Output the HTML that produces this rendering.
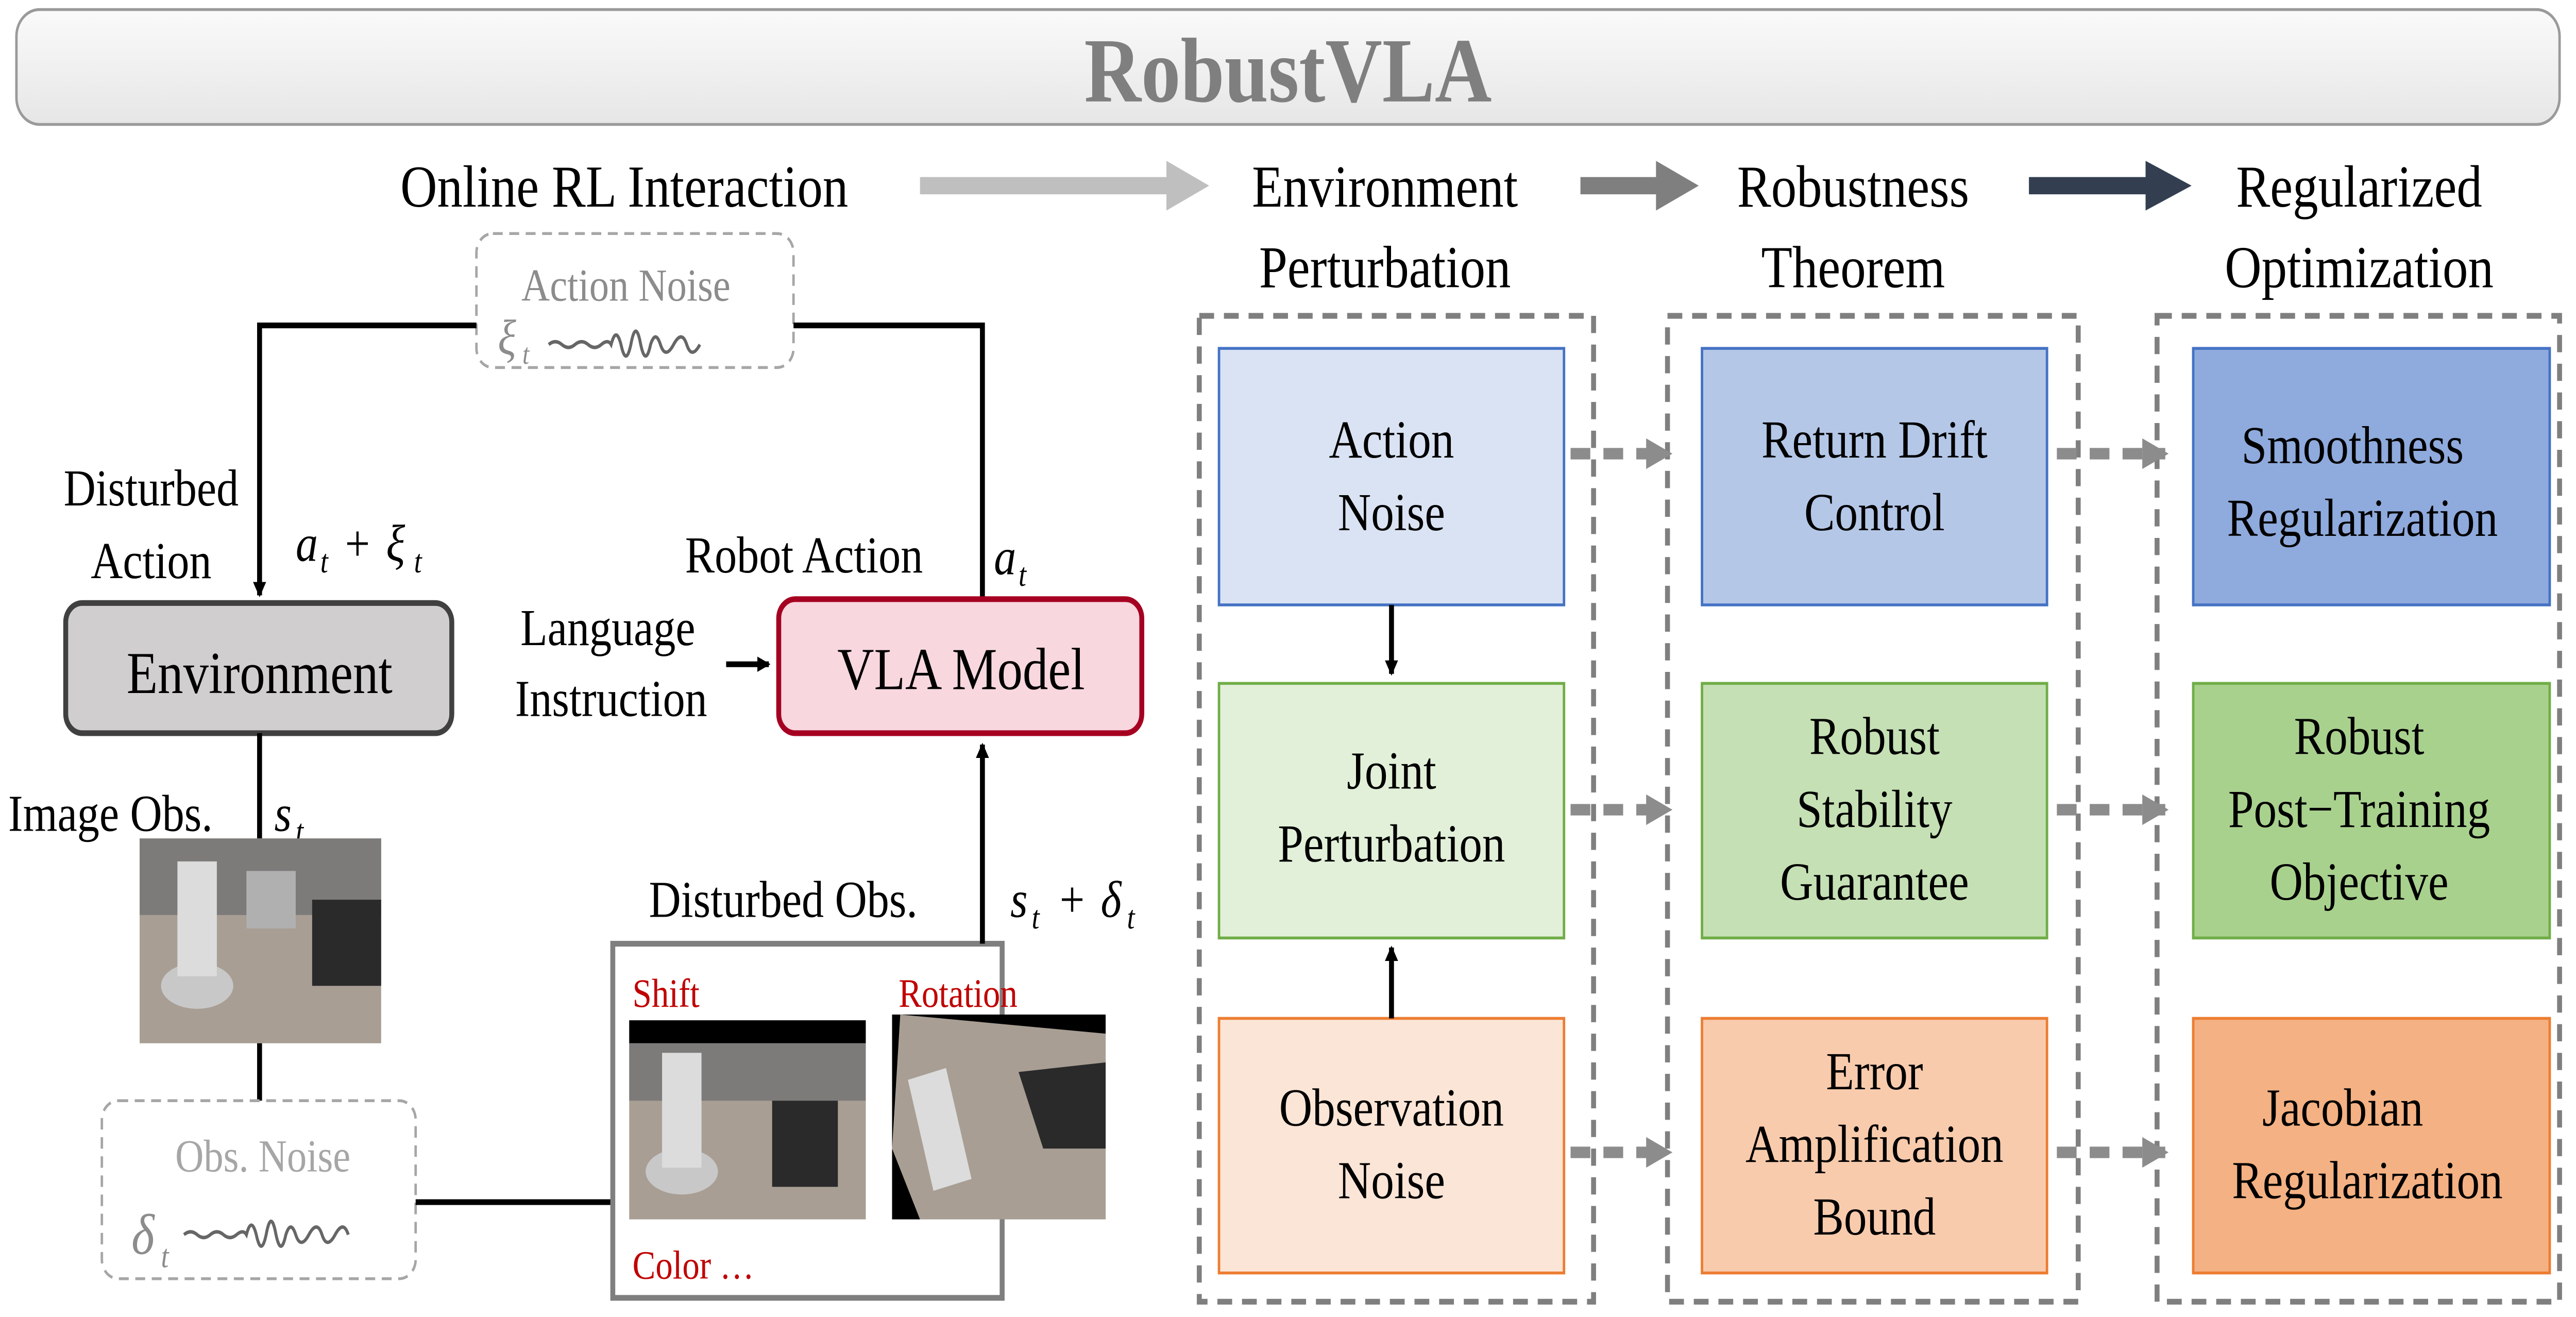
<!DOCTYPE html>
<html><head><meta charset="utf-8"><style>
html,body{margin:0;padding:0;background:#fff;width:100%;height:100%;overflow:hidden}
svg{display:block;width:100vw;height:100vh}
text{font-family:"Liberation Serif",serif;}
</style></head><body>
<svg viewBox="0 0 1568 688" preserveAspectRatio="none" xmlns="http://www.w3.org/2000/svg">
<defs>
<linearGradient id="tg" x1="0" y1="0" x2="0" y2="1"><stop offset="0" stop-color="#fafafa"/><stop offset="1" stop-color="#e6e6e6"/></linearGradient>
<marker id="ab" markerWidth="8" markerHeight="8" refX="7" refY="4" orient="auto" markerUnits="userSpaceOnUse"><path d="M0,0 L8,4 L0,8 z" fill="#000"/></marker>
<marker id="ag" markerWidth="16" markerHeight="16" refX="14" refY="8" orient="auto" markerUnits="userSpaceOnUse"><path d="M0,0 L16,8 L0,16 z" fill="#8c8c8c"/></marker>
</defs>
<rect x="10" y="5" width="1548" height="60" rx="14" fill="url(#tg)" stroke="#9a9a9a" stroke-width="1.5"/>
<text x="784" y="53" font-size="48" font-weight="bold" fill="#7f7f7f" text-anchor="middle">RobustVLA</text>
<g font-size="31" fill="#000">
<text x="380" y="108" text-anchor="middle">Online RL Interaction</text>
<text x="843" y="108" text-anchor="middle">Environment</text>
<text x="843" y="150" text-anchor="middle">Perturbation</text>
<text x="1128" y="108" text-anchor="middle">Robustness</text>
<text x="1128" y="150" text-anchor="middle">Theorem</text>
<text x="1436" y="108" text-anchor="middle">Regularized</text>
<text x="1436" y="150" text-anchor="middle">Optimization</text>
</g>
<path d="M560,97 H712" stroke="#bfbfbf" stroke-width="9"/><path d="M710,84 L736,97 L710,110 z" fill="#bfbfbf"/>
<path d="M962,97 H1010" stroke="#7f7f7f" stroke-width="9"/><path d="M1008,84 L1034,97 L1008,110 z" fill="#7f7f7f"/>
<path d="M1235,97 H1308" stroke="#333f50" stroke-width="9"/><path d="M1306,84 L1334,97 L1306,110 z" fill="#333f50"/>
<g fill="none" stroke="#7f7f7f" stroke-width="3" stroke-dasharray="9,6">
<rect x="730" y="165" width="240" height="515"/>
<rect x="1015" y="165" width="250" height="515"/>
<rect x="1313" y="165" width="245" height="515"/>
</g>
<g stroke-width="1.5">
<rect x="742" y="182" width="210" height="134" fill="#dae3f3" stroke="#4472c4"/>
<rect x="742" y="357" width="210" height="133" fill="#e2f0d9" stroke="#70ad47"/>
<rect x="742" y="532" width="210" height="133" fill="#fbe5d6" stroke="#ed7d31"/>
<rect x="1036" y="182" width="210" height="134" fill="#b4c7e7" stroke="#4472c4"/>
<rect x="1036" y="357" width="210" height="133" fill="#c5e0b4" stroke="#70ad47"/>
<rect x="1036" y="532" width="210" height="133" fill="#f8cbad" stroke="#ed7d31"/>
<rect x="1335" y="182" width="217" height="134" fill="#8faadc" stroke="#4472c4"/>
<rect x="1335" y="357" width="217" height="133" fill="#a9d18e" stroke="#70ad47"/>
<rect x="1335" y="532" width="217" height="133" fill="#f4b183" stroke="#ed7d31"/>
</g>
<g font-size="28" text-anchor="middle" fill="#000">
<text x="847" y="239">Action</text><text x="847" y="277">Noise</text>
<text x="847" y="412">Joint</text><text x="847" y="450">Perturbation</text>
<text x="847" y="588">Observation</text><text x="847" y="626">Noise</text>
<text x="1141" y="239">Return Drift</text><text x="1141" y="277">Control</text>
<text x="1141" y="394">Robust</text><text x="1141" y="432">Stability</text><text x="1141" y="470">Guarantee</text>
<text x="1141" y="569">Error</text><text x="1141" y="607">Amplification</text><text x="1141" y="645">Bound</text>
<text x="1432" y="242">Smoothness</text><text x="1438" y="280">Regularization</text>
<text x="1436" y="394">Robust</text><text x="1436" y="432">Post−Training</text><text x="1436" y="470">Objective</text>
<text x="1426" y="588">Jacobian</text><text x="1441" y="626">Regularization</text>
</g>
<path d="M847,316 V352" stroke="#000" stroke-width="3" marker-end="url(#ab)"/>
<path d="M847,532 V495" stroke="#000" stroke-width="3" marker-end="url(#ab)"/>
<g stroke="#8c8c8c" stroke-width="6" stroke-dasharray="12,8" fill="none">
<path d="M956,237 H1016" marker-end="url(#ag)"/>
<path d="M956,423 H1016" marker-end="url(#ag)"/>
<path d="M956,602 H1016" marker-end="url(#ag)"/>
<path d="M1252,237 H1318" marker-end="url(#ag)"/>
<path d="M1252,423 H1318" marker-end="url(#ag)"/>
<path d="M1252,602 H1318" marker-end="url(#ag)"/>
</g>
<rect x="290" y="122" width="193" height="70" rx="10" fill="#fff" stroke="#a6a6a6" stroke-width="1.5" stroke-dasharray="6,4"/>
<text x="381" y="157" font-size="24" fill="#8c8c8c" text-anchor="middle">Action  Noise</text>
<text x="303" y="185" font-size="26" font-style="italic" fill="#8c8c8c">ξ</text><text x="318" y="190" font-size="15" font-style="italic" fill="#8c8c8c">t</text>
<path d="M334,180 q4,-3 8,0 t8,0 t8,0 t8,0 t6,0 q3,-10 6,0 q3,12 6,0 q3,-14 6,0 q3,12 6,0 q3,-8 6,0 t8,0 t8,0 t8,0" fill="none" stroke="#666" stroke-width="1.8"/>
<path d="M290,170 H158 V311" fill="none" stroke="#000" stroke-width="3" marker-end="url(#ab)"/>
<path d="M483,170 H598 V313" fill="none" stroke="#000" stroke-width="3"/>
<rect x="40" y="315" width="235" height="68" rx="10" fill="#d0cece" stroke="#404040" stroke-width="3"/>
<text x="158" y="362" font-size="31" text-anchor="middle">Environment</text>
<rect x="474" y="313" width="221" height="70" rx="10" fill="#f8d7df" stroke="#a50021" stroke-width="3"/>
<text x="585" y="360" font-size="31" text-anchor="middle">VLA Model</text>
<g font-size="27">
<text x="370" y="337" text-anchor="middle">Language</text><text x="372" y="374" text-anchor="middle">Instruction</text>
<text x="92" y="264" text-anchor="middle">Disturbed</text><text x="92" y="302" text-anchor="middle">Action</text>
<text x="417" y="299">Robot Action</text>
<text x="605" y="300" font-style="italic">a</text><text x="620" y="306" font-size="17" font-style="italic">t</text>
<text x="180" y="293" font-style="italic">a</text><text x="195" y="299" font-size="17" font-style="italic">t</text><text x="210" y="293">+</text><text x="235" y="293" font-style="italic">ξ</text><text x="252" y="299" font-size="17" font-style="italic">t</text>
<text x="5" y="434">Image Obs.</text><text x="167" y="434" font-style="italic">s</text><text x="180" y="440" font-size="17" font-style="italic">t</text>
<text x="395" y="479">Disturbed Obs.</text>
<text x="615" y="479" font-style="italic">s</text><text x="628" y="485" font-size="17" font-style="italic">t</text><text x="645" y="479">+</text><text x="670" y="479" font-style="italic">δ</text><text x="686" y="485" font-size="17" font-style="italic">t</text>
</g>
<path d="M442,347 H468" stroke="#000" stroke-width="3" marker-end="url(#ab)"/>
<path d="M158,383 V438" stroke="#000" stroke-width="3"/>
<rect x="85" y="438" width="147" height="107" fill="#a89e94"/>
<rect x="85" y="438" width="147" height="40" fill="#7d7b7a"/>
<rect x="190" y="470" width="42" height="45" fill="#2a2a2a"/>
<ellipse cx="120" cy="515" rx="22" ry="12" fill="#c8c8c8"/>
<rect x="108" y="450" width="24" height="60" fill="#dcdcdc"/>
<rect x="150" y="455" width="30" height="30" fill="#b0b0b0"/>
<path d="M158,545 V575" stroke="#000" stroke-width="3"/>
<rect x="62" y="575" width="191" height="93" rx="10" fill="#fff" stroke="#a6a6a6" stroke-width="1.5" stroke-dasharray="6,4"/>
<text x="160" y="612" font-size="24" fill="#a6a6a6" text-anchor="middle">Obs. Noise</text>
<text x="80" y="655" font-size="30" font-style="italic" fill="#8c8c8c">δ</text><text x="98" y="662" font-size="17" font-style="italic" fill="#8c8c8c">t</text>
<path d="M112,645 q4,-3 8,0 t8,0 t8,0 t8,0 t6,0 q3,-10 6,0 q3,12 6,0 q3,-14 6,0 q3,12 6,0 q3,-8 6,0 t8,0 t8,0 t8,0 t8,0" fill="none" stroke="#666" stroke-width="1.8"/>
<path d="M253,628 H375" stroke="#000" stroke-width="3"/>
<rect x="373" y="493" width="237" height="185" fill="#fff" stroke="#7f7f7f" stroke-width="3"/>
<path d="M598,493 V389" stroke="#000" stroke-width="3" marker-end="url(#ab)"/>
<text x="385" y="526" font-size="21" fill="#c00000">Shift</text>
<text x="547" y="526" font-size="21" fill="#c00000">Rotation</text>
<text x="385" y="668" font-size="21" fill="#c00000">Color …</text>
<rect x="383" y="533" width="144" height="104" fill="#a89e94"/>
<rect x="383" y="533" width="144" height="12" fill="#000"/>
<rect x="383" y="545" width="144" height="30" fill="#7d7b7a"/>
<rect x="470" y="575" width="40" height="45" fill="#2a2a2a"/>
<ellipse cx="415" cy="612" rx="22" ry="12" fill="#c8c8c8"/>
<rect x="403" y="550" width="24" height="60" fill="#dcdcdc"/>
<rect x="543" y="530" width="130" height="107" fill="#000"/>
<polygon points="548,530 673,540 673,637 560,637 543,600" fill="#a89e94"/>
<polygon points="620,560 673,555 673,600 635,600" fill="#2a2a2a"/>
<rect x="560" y="560" width="24" height="60" fill="#dcdcdc" transform="rotate(-15 572 590)"/>
</svg>
</body></html>
